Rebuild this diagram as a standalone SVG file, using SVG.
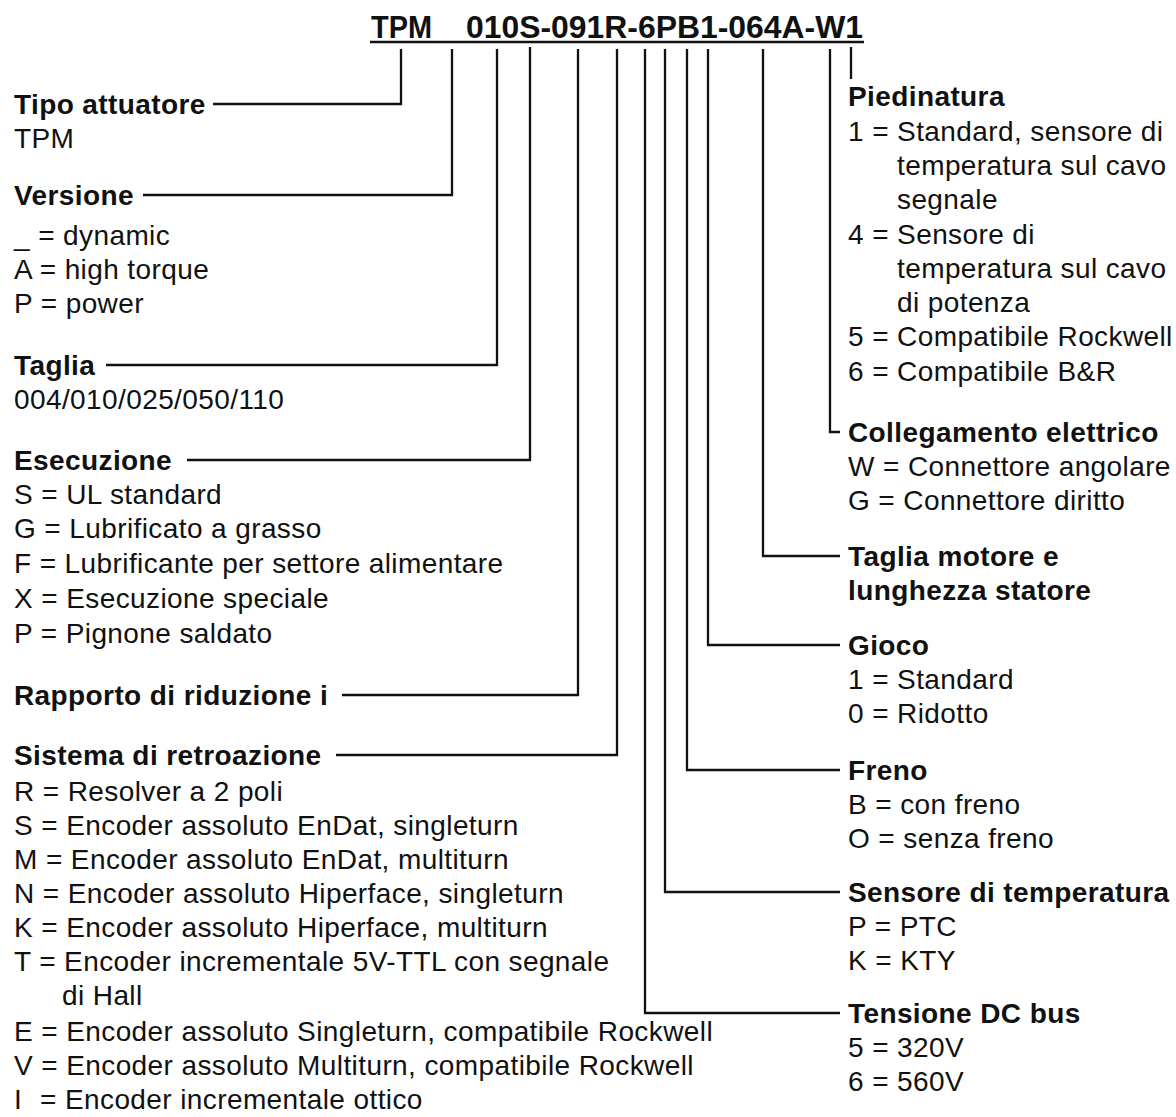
<svg xmlns="http://www.w3.org/2000/svg" width="1176" height="1117" viewBox="0 0 1176 1117">
<style>
text{font-family:"Liberation Sans",Arial,sans-serif;font-size:28px;letter-spacing:0.4px;fill:#111}
.h{font-weight:bold}
.t{font-weight:bold;font-size:31px;letter-spacing:0}
.c{fill:none;stroke:#111;stroke-width:2.3}
</style>
<rect width="1176" height="1117" fill="#fff"/>
<g id="title">
<text class="t" x="371" y="38" textLength="61" lengthAdjust="spacingAndGlyphs">TPM</text>
<text class="t" x="466" y="38" textLength="397" lengthAdjust="spacingAndGlyphs">010S-091R-6PB1-064A-W1</text>
<line x1="370" y1="42" x2="864" y2="42" stroke="#111" stroke-width="2.6"/>
</g>
<g id="connectors" class="c">
<polyline points="401,49 401,104 213,104"/>
<polyline points="452,49 452,195 143,195"/>
<polyline points="497,49 497,365 106,365"/>
<polyline points="530,47 530,460 187,460"/>
<polyline points="578,49 578,695 342,695"/>
<polyline points="617,49 617,755 336,755"/>
<polyline points="645,49 645,1013 840,1013"/>
<polyline points="665,49 665,892 840,892"/>
<polyline points="687,49 687,770 840,770"/>
<polyline points="708,49 708,645 840,645"/>
<polyline points="763,49 763,556 840,556"/>
<polyline points="830,49 830,432 840,432"/>
<polyline points="851,47 851,79"/>
</g>
<g id="tipo"><text class="h" x="14" y="114">Tipo attuatore</text><text x="14" y="148">TPM</text></g>
<g id="versione"><text class="h" x="14" y="205">Versione</text><text x="14" y="245">_ = dynamic</text><text x="14" y="279">A = high torque</text><text x="14" y="313">P = power</text></g>
<g id="taglia"><text class="h" x="14" y="375">Taglia</text><text x="14" y="409">004/010/025/050/110</text></g>
<g id="esecuzione"><text class="h" x="14" y="470">Esecuzione</text><text x="14" y="504">S = UL standard</text><text x="14" y="538">G = Lubrificato a grasso</text><text x="14" y="573">F = Lubrificante per settore alimentare</text><text x="14" y="608">X = Esecuzione speciale</text><text x="14" y="643">P = Pignone saldato</text></g>
<g id="rapporto"><text class="h" x="14" y="705">Rapporto di riduzione i</text></g>
<g id="retroazione"><text class="h" x="14" y="765">Sistema di retroazione</text>
<text x="14" y="801">R = Resolver a 2 poli</text>
<text x="14" y="835">S = Encoder assoluto EnDat, singleturn</text>
<text x="14" y="869">M = Encoder assoluto EnDat, multiturn</text>
<text x="14" y="903">N = Encoder assoluto Hiperface, singleturn</text>
<text x="14" y="937">K = Encoder assoluto Hiperface, multiturn</text>
<text x="14" y="971">T = Encoder incrementale 5V-TTL con segnale</text>
<text x="62" y="1005">di Hall</text>
<text x="14" y="1041">E = Encoder assoluto Singleturn, compatibile Rockwell</text>
<text x="14" y="1075">V = Encoder assoluto Multiturn, compatibile Rockwell</text>
<text x="14" y="1109">I<tspan x="40">= Encoder incrementale ottico</tspan></text></g>
<g id="piedinatura"><text class="h" x="848" y="106">Piedinatura</text>
<text x="848" y="141">1 = Standard, sensore di</text>
<text x="897" y="175">temperatura sul cavo</text>
<text x="897" y="209">segnale</text>
<text x="848" y="244">4 = Sensore di</text>
<text x="897" y="278">temperatura sul cavo</text>
<text x="897" y="312">di potenza</text>
<text x="848" y="346">5 = Compatibile Rockwell</text>
<text x="848" y="381">6 = Compatibile B&amp;R</text></g>
<g id="collegamento"><text class="h" x="848" y="442">Collegamento elettrico</text><text x="848" y="476">W = Connettore angolare</text><text x="848" y="510">G = Connettore diritto</text></g>
<g id="taglia-motore"><text class="h" x="848" y="566">Taglia motore e</text><text class="h" x="848" y="600">lunghezza statore</text></g>
<g id="gioco"><text class="h" x="848" y="655">Gioco</text><text x="848" y="689">1 = Standard</text><text x="848" y="723">0 = Ridotto</text></g>
<g id="freno"><text class="h" x="848" y="780">Freno</text><text x="848" y="814">B = con freno</text><text x="848" y="848">O = senza freno</text></g>
<g id="sensore"><text class="h" x="848" y="902">Sensore di temperatura</text><text x="848" y="936">P = PTC</text><text x="848" y="970">K = KTY</text></g>
<g id="tensione"><text class="h" x="848" y="1023">Tensione DC bus</text><text x="848" y="1057">5 = 320V</text><text x="848" y="1091">6 = 560V</text></g>
</svg>
